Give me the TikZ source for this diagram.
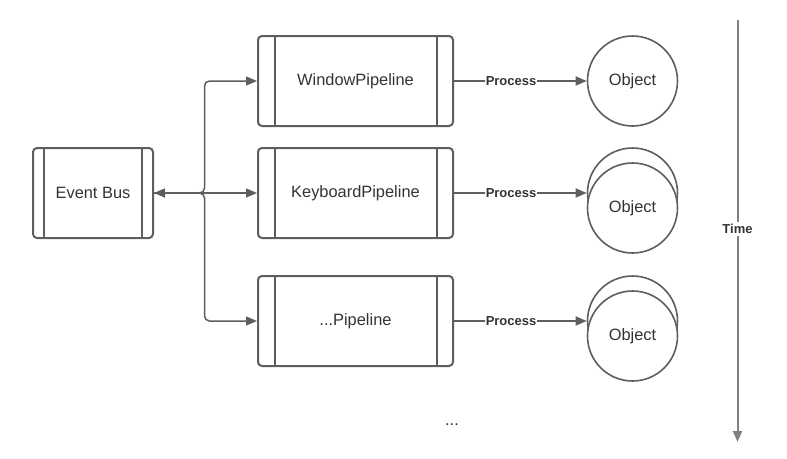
\documentclass[tikz,border=0pt]{standalone}
\usepackage{fontspec}
\setmainfont{Liberation Sans}
\usetikzlibrary{arrows.meta}
\definecolor{ln}{HTML}{5E5E5E}
\definecolor{tx}{HTML}{333333}
\definecolor{tl}{HTML}{808080}
\tikzset{
  box/.style={draw=ln, line width=2pt, rounded corners=4pt, minimum height=90pt, text=tx, font=\fontsize{16.4}{19}\selectfont},
  pipe/.style={box, minimum width=195pt},
  obj/.style={circle, draw=ln, line width=1.6pt, fill=white, minimum size=90pt, inner sep=0pt, text=tx, font=\fontsize{16.4}{19}\selectfont},
  conn/.style={draw=ln, line width=1.5pt, -{Triangle[length=11pt,width=9pt]}},
  lbl/.style={fill=white, inner sep=1pt, text=tx, font=\bfseries\fontsize{13}{15}\selectfont},
}
\begin{document}
\begin{tikzpicture}[x=1pt,y=-1pt]
\useasboundingbox (0,0) rectangle (787,458);
% event bus
\node[box, minimum width=120pt] (eb) at (93,193) {Event Bus};
\draw[ln, line width=2pt] ([xshift=12pt]eb.north west) -- ([xshift=12pt]eb.south west)
  ([xshift=-12pt]eb.north east) -- ([xshift=-12pt]eb.south east);
% pipelines
\node[pipe] (wp) at (355.5,81) {WindowPipeline};
\node[pipe] (kp) at (355.5,193) {KeyboardPipeline};
\node[pipe] (xp) at (355.5,321) {...Pipeline};
\foreach \p in {wp,kp,xp}{
  \draw[ln, line width=2pt] ([xshift=17.5pt]\p.north west) -- ([xshift=17.5pt]\p.south west)
    ([xshift=-17.5pt]\p.north east) -- ([xshift=-17.5pt]\p.south east);
}
% objects
\node[obj] (o1) at (632.5,81) {Object};
\node[obj] (o2b) at (632.5,193) {};
\node[obj] (o2) at (632.5,208) {Object};
\node[obj] (o3b) at (632.5,321) {};
\node[obj] (o3) at (632.5,336) {Object};
% bus connectors
\coordinate (j) at (204.5,193);
\draw[conn, {Triangle[length=11pt,width=9pt]}-{Triangle[length=11pt,width=9pt]}] (eb.east) -- (kp.west);
\draw[conn, rounded corners=5pt] (eb.east) -- (j) |- (wp.west);
\draw[conn, rounded corners=5pt] (eb.east) -- (j) |- (xp.west);
% process connectors
\draw[conn] (wp.east) -- node[lbl, pos=0.43] {Process} (o1.west);
\draw[conn] (kp.east) -- node[lbl, pos=0.43] {Process} (o2b.west);
\draw[conn] (xp.east) -- node[lbl, pos=0.43] {Process} (o3b.west);
% dots
\node[text=tx, font=\fontsize{16.4}{19}\selectfont] (dots) at (452,425) {...};
% time
\coordinate (t0) at (737.5,20);
\coordinate (t1) at (737.5,442);
\draw[draw=tl, line width=2pt, -{Triangle[length=11pt,width=9pt]}] (t0) -- node[lbl, pos=0.495, inner sep=2pt] {Time} (t1);
\end{tikzpicture}
\end{document}
